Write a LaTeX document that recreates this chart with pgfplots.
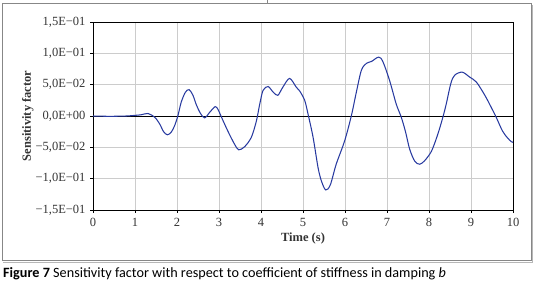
\documentclass[border=0pt]{standalone}
\usepackage{fontspec}
\setmainfont{Liberation Serif}
\newfontfamily\capfont{Carlito}
\usepackage{pgfplots}
\pgfplotsset{compat=1.18}
\definecolor{curve}{RGB}{40,58,160}
\definecolor{framegray}{RGB}{135,135,135}
\begin{document}
\begin{tikzpicture}
\path[use as bounding box] (0,0) rectangle (535pt,286pt);
\draw[framegray, line width=1pt] (2pt,25pt) rectangle (531pt,282pt);
\draw[framegray!60, line width=0.6pt] (3pt,24pt) -- (532pt,24pt) -- (532pt,281pt);
\draw[framegray, line width=0.8pt] (267pt,282pt) -- (267pt,286pt);
\begin{axis}[
  at={(93pt,76pt)}, anchor=south west,
  scale only axis, width=420pt, height=188pt,
  xmin=0, xmax=10, ymin=-0.15, ymax=0.15,
  xtick={0,1,2,3,4,5,6,7,8,9,10},
  ytick={-0.15,-0.10,-0.05,0,0.05,0.10,0.15},
  yticklabels={{−1,5E−01},{−1,0E−01},{−5,0E−02},{0,0E+00},{5,0E−02},{1,0E−01},{1,5E−01}},
  xticklabels={0,1,2,3,4,5,6,7,8,9,10},
  grid=major,
  major grid style={draw=black!20, line width=0.8pt},
  extra y ticks={0}, extra y tick labels={},
  extra y tick style={major grid style={draw=black, line width=0.8pt}, major tick length=0pt},
  tick align=outside, tick pos=left,
  major tick length=3pt,
  tick style={black, line width=0.8pt},
  axis line style={black, line width=0.8pt},
  tick label style={font=\fontsize{12.5}{14}\selectfont, text=black!80},
  yticklabel style={xshift=-1pt},
  xticklabel style={yshift=-2pt},
  xlabel={\textbf{Time (s)}},
  ylabel={\textbf{Sensitivity factor}},
  label style={font=\fontsize{12.5}{14}\selectfont, text=black!80},
  xlabel style={at={(axis description cs:0.5,-0.154)}, anchor=center},
  ylabel style={at={(axis description cs:-0.155,0.5)}, anchor=center},
]
\addplot[curve, line width=1.05pt, smooth, tension=0.5] coordinates {
(0,0) (0.4,-0.0005) (0.8,0.0) (1.0,0.001) (1.15,0.002) (1.31,0.004)
(1.47,-0.002) (1.59,-0.013) (1.68,-0.025) (1.77,-0.030) (1.86,-0.026)
(1.94,-0.016) (2.02,0.0) (2.10,0.022) (2.20,0.038) (2.29,0.042)
(2.38,0.033) (2.46,0.018) (2.56,0.004) (2.66,-0.003) (2.78,0.006)
(2.91,0.015) (2.98,0.010) (3.06,-0.002) (3.21,-0.024) (3.37,-0.045)
(3.47,-0.054) (3.61,-0.049) (3.77,-0.034) (3.89,-0.008) (3.97,0.019)
(4.05,0.041) (4.17,0.047) (4.29,0.038) (4.40,0.033) (4.52,0.046)
(4.68,0.060) (4.84,0.046) (4.92,0.040) (5.04,0.025) (5.12,0.003)
(5.24,-0.034) (5.36,-0.083) (5.44,-0.104) (5.54,-0.118) (5.65,-0.110)
(5.79,-0.077) (5.99,-0.040) (6.15,0.0) (6.27,0.038) (6.39,0.073)
(6.51,0.084) (6.63,0.087) (6.80,0.094) (6.90,0.087) (7.06,0.057)
(7.22,0.019) (7.34,-0.002) (7.44,-0.025) (7.54,-0.053) (7.66,-0.072)
(7.78,-0.077) (7.90,-0.071) (8.06,-0.056) (8.21,-0.029) (8.33,-0.002)
(8.41,0.019) (8.52,0.052) (8.61,0.065) (8.79,0.070) (8.97,0.062)
(9.13,0.054) (9.33,0.033) (9.48,0.014) (9.60,-0.002) (9.75,-0.024)
(9.87,-0.035) (9.96,-0.041) (10.0,-0.042)
};
\end{axis}
\node[anchor=west, inner sep=0pt, font=\capfont\fontsize{14.2}{16}\selectfont] at (3pt,12pt)
  {\textbf{Figure 7} Sensitivity factor with respect to coefficient of stiffness in damping \textit{b}};
\end{tikzpicture}
\end{document}
